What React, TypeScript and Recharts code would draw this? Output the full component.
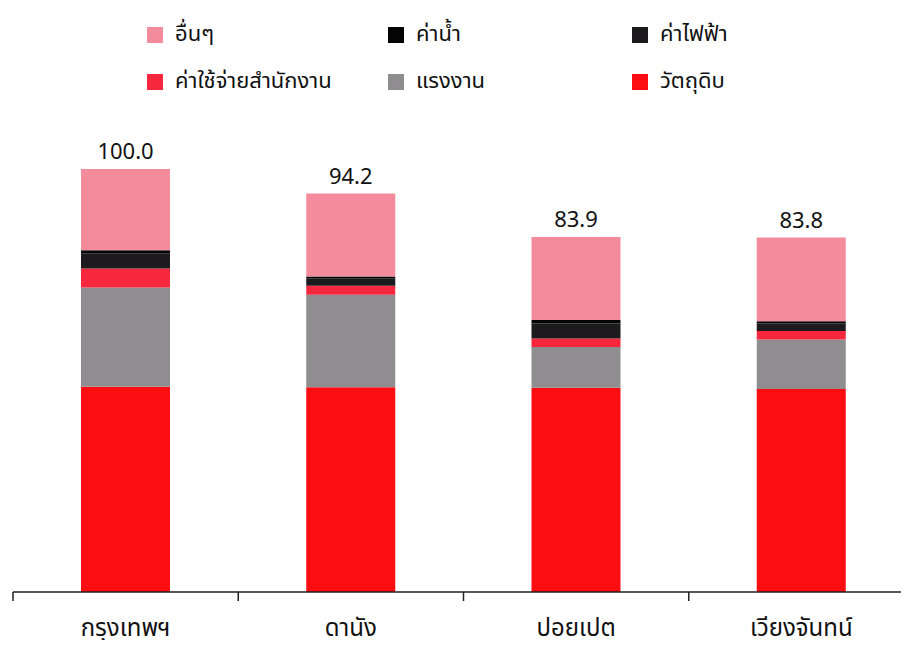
import React from 'react'
import { BarChart, Bar, XAxis, YAxis, LabelList } from 'recharts'

const cities = ['กรุงเทพฯ', 'ดานัง', 'ปอยเปต', 'เวียงจันทน์']
const rawMaterial = [48.5, 48.4, 48.3, 48.0]
const labour = [23.5, 21.9, 9.6, 11.7]
const office = [4.5, 2.1, 2.0, 2.0]
const electricity = [3.6, 1.8, 3.6, 1.8]
const water = [0.7, 0.4, 0.8, 0.5]
const others = [19.2, 19.6, 19.6, 19.8]
const totals = ['100.0', '94.2', '83.9', '83.8']

const data = cities.map((name, i) => ({
  name,
  raw: rawMaterial[i],
  labour: labour[i],
  office: office[i],
  elec: electricity[i],
  water: water[i],
  others: others[i],
  total: totals[i],
}))

const FONT = '"Noto Sans Thai", "Noto Sans Thai Looped", "Noto Sans", Tahoma, sans-serif'

// stacked bottom -> top
const series = [
  { key: 'raw', name: 'วัตถุดิบ', color: '#fb0d12' },
  { key: 'labour', name: 'แรงงาน', color: '#8f8d90' },
  { key: 'office', name: 'ค่าใช้จ่ายสำนักงาน', color: '#f7273e' },
  { key: 'elec', name: 'ค่าไฟฟ้า', color: '#1c1a1c' },
  { key: 'water', name: 'ค่าน้ำ', color: '#050505' },
  { key: 'others', name: 'อื่นๆ', color: '#f48b9d' },
]

// legend slots, in reading order
const legendItems = [
  { key: 'others', left: 147, top: 27 },
  { key: 'water', left: 388, top: 27 },
  { key: 'elec', left: 632, top: 27 },
  { key: 'office', left: 147, top: 74 },
  { key: 'labour', left: 388, top: 74 },
  { key: 'raw', left: 632, top: 74 },
]

// category label + tick marks on the band edges
const CityTick = (props: any) => {
  const { x, y, payload, index } = props
  const half = payload.offset || 0
  return (
    <g>
      <line x1={x - half} x2={x - half} y1={y} y2={y + 9} stroke="#222" strokeWidth={1.5} />
      {index === cities.length - 1 && (
        <line x1={x + half} x2={x + half} y1={y} y2={y + 9} stroke="#222" strokeWidth={1.5} />
      )}
      <text x={x} y={y + 44} textAnchor="middle" fontSize={24} fill="#111" fontFamily={FONT}>{payload.value}</text>
    </g>
  )
}

export default function App() {
  return (
    <div style={{ margin: -8, width: 909, height: 648, overflow: 'hidden', position: 'relative', background: '#fff', fontFamily: FONT }}>
      {legendItems.map(it => {
        const s = series.find(x => x.key === it.key)!
        return (
          <div key={it.key} style={{ position: 'absolute', left: it.left, top: it.top, display: 'flex', alignItems: 'center', height: 16 }}>
            <div style={{ width: 16, height: 16, background: s.color }} />
            <span style={{ marginLeft: 12, fontSize: 22, color: '#111', whiteSpace: 'nowrap', lineHeight: '16px' }}>{s.name}</span>
          </div>
        )
      })}
      <BarChart width={930} height={648} data={data} margin={{ top: 169, right: 16, bottom: 0, left: 13 }} barCategoryGap={0}>
        <YAxis hide domain={[0, 100]} />
        <XAxis dataKey="name" height={56} tickLine={false} tickSize={0} tickMargin={0}
          axisLine={{ stroke: '#222', strokeWidth: 1.5 }} tick={<CityTick />} interval={0} />
        {series.map((s, i) => (
          <Bar key={s.key} dataKey={s.key} name={s.name} stackId="a" fill={s.color} barSize={89} isAnimationActive={false}>
            {i === series.length - 1 && (
              <LabelList dataKey="total" position="top" offset={10} style={{ fontSize: 22, fill: '#111', fontFamily: FONT }} />
            )}
          </Bar>
        ))}
      </BarChart>
    </div>
  )
}
